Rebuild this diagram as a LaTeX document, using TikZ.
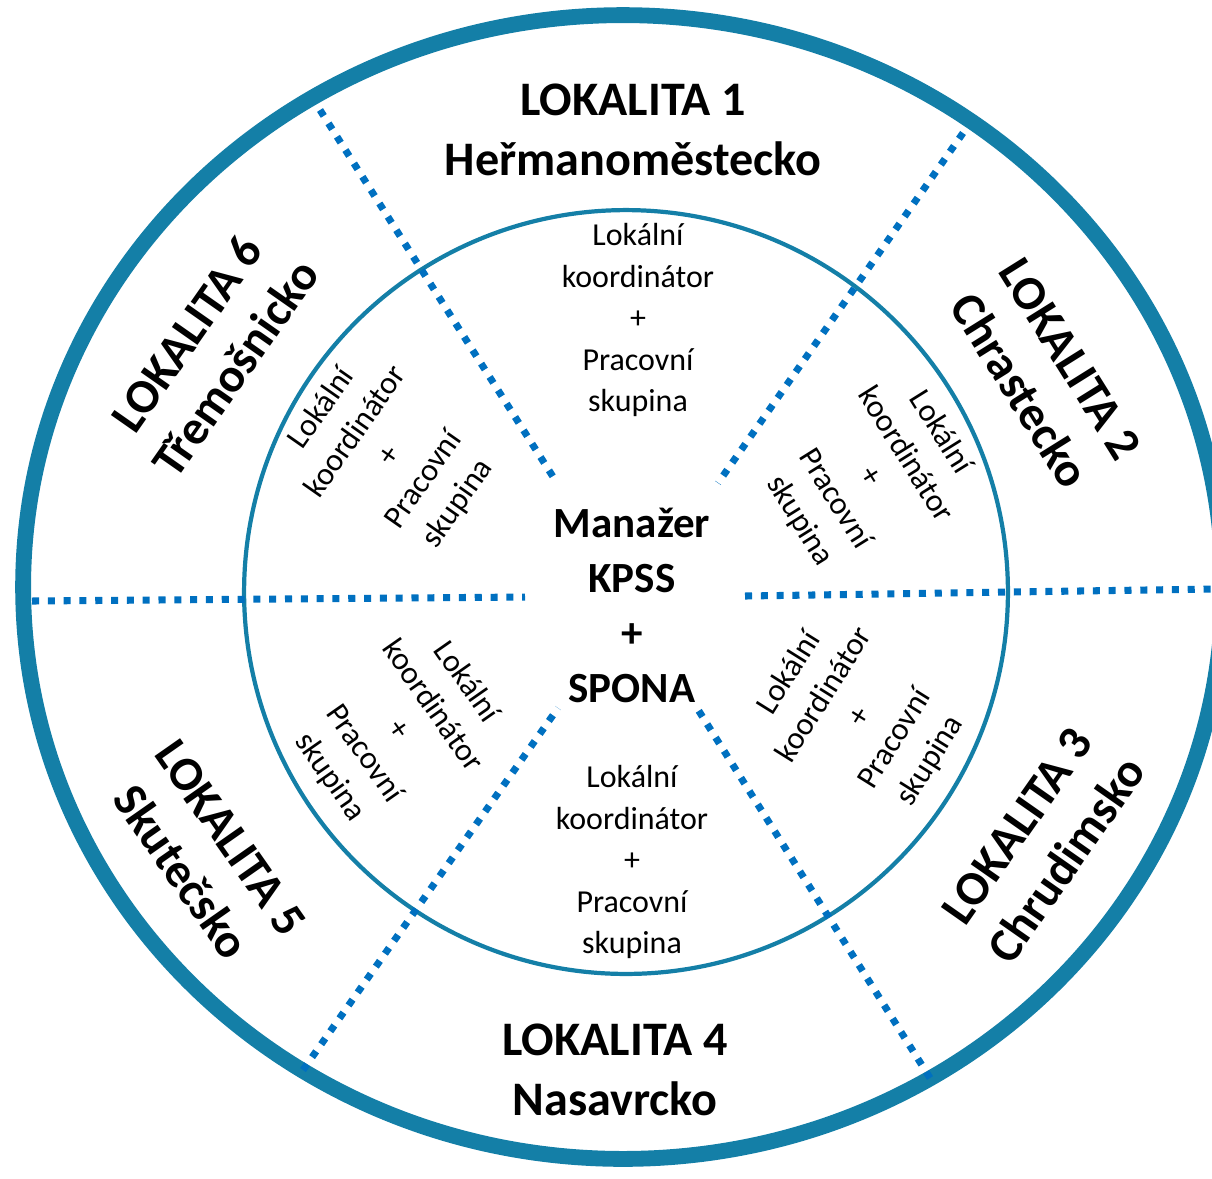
\documentclass[tikz,border=0pt]{standalone}
\usepackage{fontspec}
\setmainfont{Carlito}
\usepackage{tikz}
\definecolor{T}{RGB}{20,127,167}
\definecolor{B}{RGB}{0,112,192}

\begin{document}
\begin{tikzpicture}[x=0.02cm,y=-0.02cm,
  sep/.style={B, line width=4pt, dash pattern=on 4pt off 5pt},
  loc/.style={font=\fontsize{27.4}{34}\selectfont\bfseries, align=center, inner sep=0pt},
  grp/.style={font=\fontsize{18.2}{23.6}\selectfont, align=center, inner sep=0pt},
  ctr/.style={font=\fontsize{24.5}{31.3}\selectfont\bfseries, align=center, inner sep=0pt}]
  \clip (0,0) rectangle (1212,1178);
  % rings
  \draw[T, line width=9pt] (623,587) ellipse [x radius=12cm, y radius=11.44cm];
  \draw[T, line width=2.4pt] (626,592) circle [radius=7.64cm];
  % sector borders
  \draw[sep] (32,601) -- (525,597);
  \draw[sep] (745,596) -- (1212,589);
  \draw[sep] (320,110) -- (557,483);
  \draw[sep] (963,133) -- (718,483);
  \draw[sep] (303,1070) -- (558,708);
  \draw[sep] (930,1078) -- (697,708);
  % centre
  \node[ctr] (mgr) at (632,605) {Manažer\\KPSS\\+\\SPONA};
  % localities
  \node[loc] (loc1) at (633,130) {LOKALITA 1\\Heřmanoměstecko};
  \node[loc, rotate=-58] (loc2) at (1045,375) {LOKALITA 2\\Chrastecko};
  \node[loc, rotate=55] (loc3) at (1042,843) {LOKALITA 3\\Chrudimsko};
  \node[loc] (loc4) at (615,1070) {LOKALITA 4\\Nasavrcko};
  \node[loc, rotate=-55] (loc5) at (206,855) {LOKALITA 5\\Skutečsko};
  \node[loc, rotate=55] (loc6) at (211,351) {LOKALITA 6\\Třemošnicko};
  % groups
  \node[grp] (grp1) at (638,320) {Lokální\\koordinátor\\+\\Pracovní\\skupina};
  \node[grp, rotate=-58] (grp2) at (870,477) {Lokální\\koordinátor\\+\\Pracovní\\skupina};
  \node[grp, rotate=58] (grp3) at (860,717) {Lokální\\koordinátor\\+\\Pracovní\\skupina};
  \node[grp] (grp4) at (632,862) {Lokální\\koordinátor\\+\\Pracovní\\skupina};
  \node[grp, rotate=-55] (grp5) at (398,730) {Lokální\\koordinátor\\+\\Pracovní\\skupina};
  \node[grp, rotate=55] (grp6) at (390,456) {Lokální\\koordinátor\\+\\Pracovní\\skupina};
\end{tikzpicture}
\end{document}
